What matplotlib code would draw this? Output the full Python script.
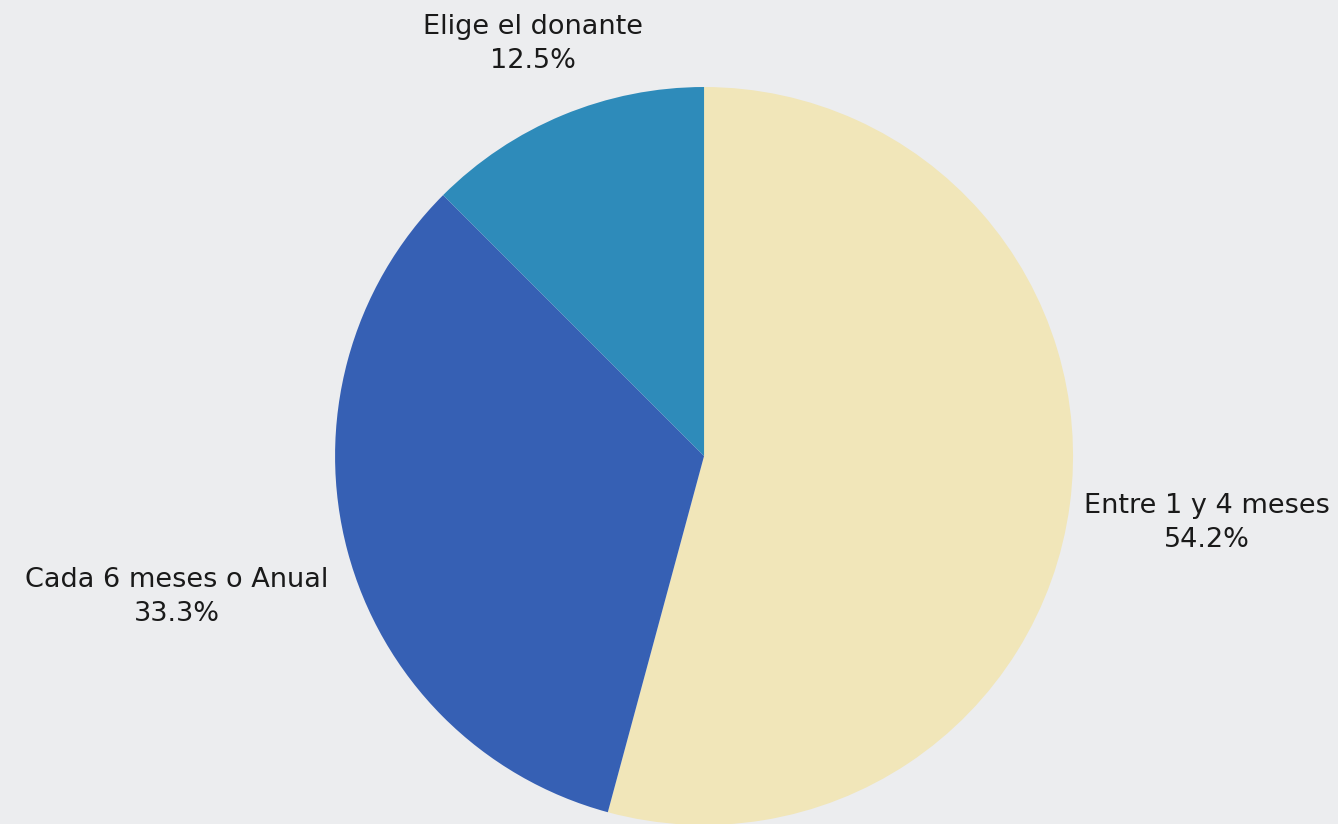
import numpy as np
import matplotlib
matplotlib.use("Agg")
import matplotlib.pyplot as plt

labels = ["Entre 1 y 4 meses", "Cada 6 meses o Anual", "Elige el donante"]
values = [54.2, 33.3, 12.5]
colors = ["#F1E6B9", "#3660B4", "#2E8BBA"]
# distance of each label block from the centre, in radii
label_dist = [1.375, 1.48, 1.21]

BG = "#ECEDEF"

fig = plt.figure(figsize=(13.38, 8.24), dpi=100, facecolor=BG)
# square axes holding the pie, placed by pixel geometry
ax = fig.add_axes([0.2504, -0.0012, 0.5516, 0.8956])
ax.set_facecolor(BG)

wedges, _ = ax.pie(values, colors=colors, startangle=90, counterclock=False,
                   radius=1.0, wedgeprops=dict(linewidth=0))
ax.set_xlim(-1, 1)
ax.set_ylim(-1, 1)
ax.set_aspect("equal")
ax.axis("off")

for w, lab, val, d in zip(wedges, labels, values, label_dist):
    ang = np.deg2rad((w.theta1 + w.theta2) / 2)
    ax.text(d * np.cos(ang), d * np.sin(ang), f"{lab}\n{val:.1f}%",
            ha="center", va="center", fontsize=19.5, color="#1A1A1A",
            linespacing=1.4, family=["DejaVu Sans"], clip_on=False)

fig.savefig("out.png", dpi=100, facecolor=BG)
